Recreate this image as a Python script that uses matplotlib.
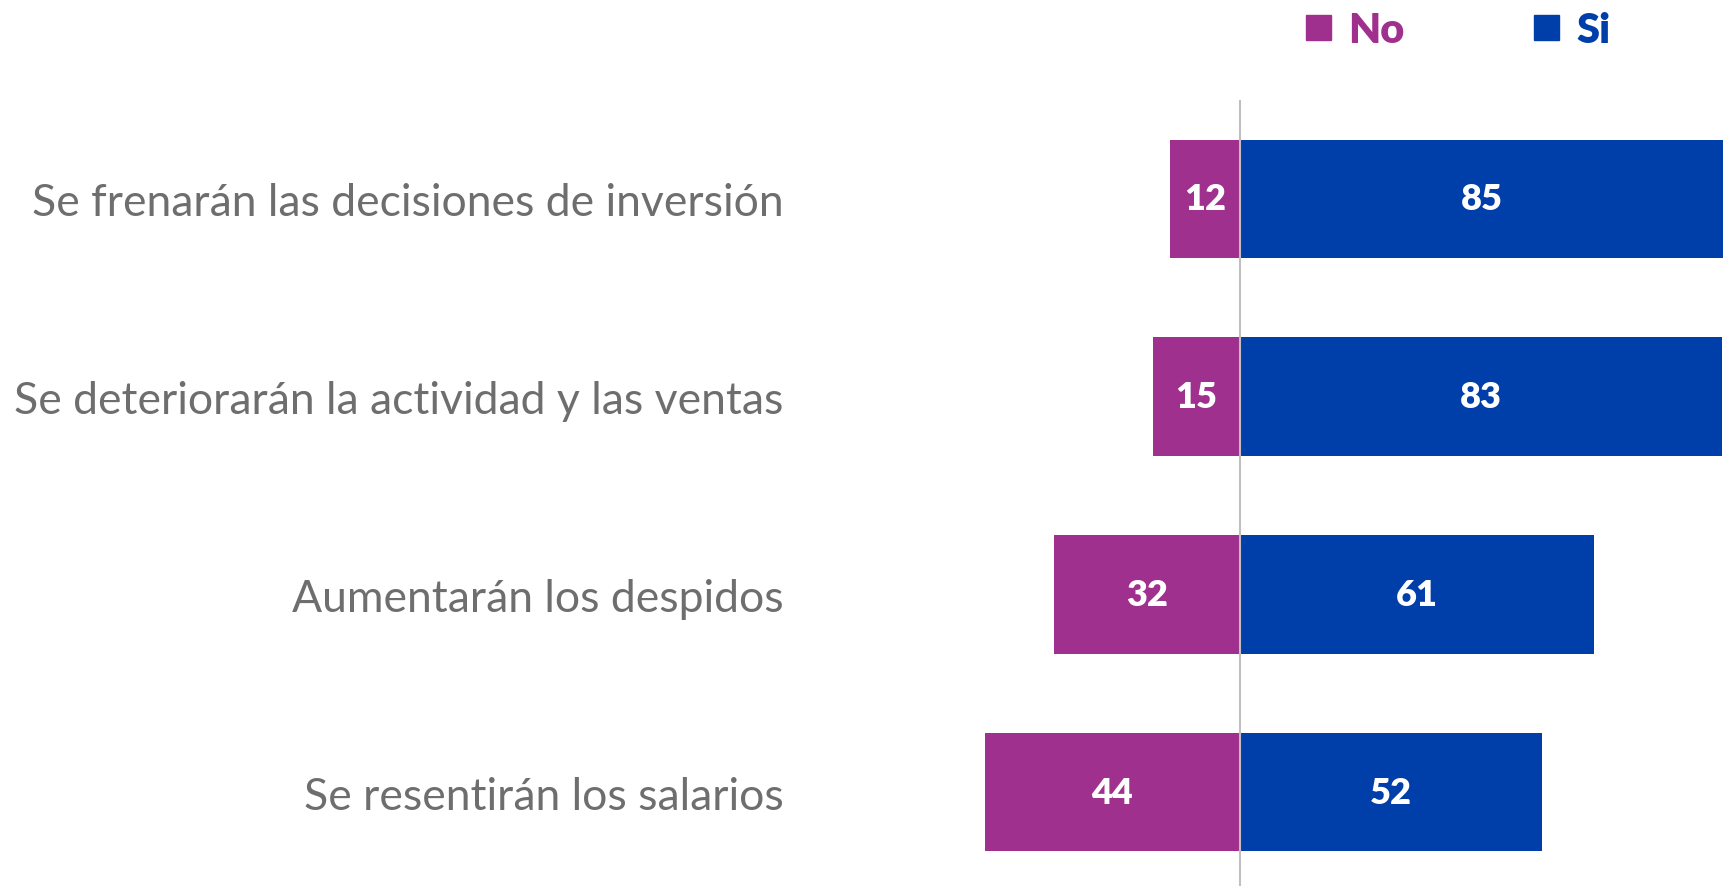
import matplotlib
matplotlib.use("Agg")
import matplotlib.pyplot as plt
from matplotlib.lines import Line2D

categories = ["Se frenarán las decisiones de inversión",
              "Se deteriorarán la actividad y las ventas",
              "Aumentarán los despidos",
              "Se resentirán los salarios"]
no_vals = [12, 15, 32, 44]
si_vals = [85, 83, 61, 52]

purple = "#A0308E"
blue = "#003FA9"
font = "Lato"

fig = plt.figure(figsize=(17.24, 8.87), dpi=100)
ax = fig.add_axes([810 / 1724, 0, 1 - 810 / 1724, 1 - 101 / 887])

pos = list(range(len(categories)))
b_no = ax.barh(pos, [-v for v in no_vals], height=0.6, color=purple)
b_si = ax.barh(pos, si_vals, height=0.6, color=blue)

ax.bar_label(b_no, labels=[str(v) for v in no_vals], label_type="center",
             color="white", fontsize=26, fontweight="heavy", family=font)
ax.bar_label(b_si, labels=[str(v) for v in si_vals], label_type="center",
             color="white", fontsize=26, fontweight="heavy", family=font)

ax.axvline(0, color="#BFBFBF", lw=1.5, zorder=3)

ax.set_xlim(-74.1, 83.4)
ax.set_ylim(3.475, -0.5)
ax.set_yticks(pos)
ax.set_yticklabels(categories, fontsize=32, color="#6E6E6E", family=font)
ax.tick_params(axis="y", length=0, pad=19)
ax.set_xticks([])
for s in ax.spines.values():
    s.set_visible(False)

handles = [Line2D([], [], marker="s", ls="", color=purple, markersize=18),
           Line2D([], [], marker="s", ls="", color=blue, markersize=18)]
fig.legend(handles, ["No", "Si"], loc="center", bbox_to_anchor=(1456 / 1724, 1 - 31 / 887),
           ncol=2, frameon=False, handlelength=0.8, handletextpad=0.33, columnspacing=3.0,
           labelcolor=[purple, blue], prop={"family": font, "weight": "heavy", "size": 30})

fig.savefig("out.png", dpi=100)
